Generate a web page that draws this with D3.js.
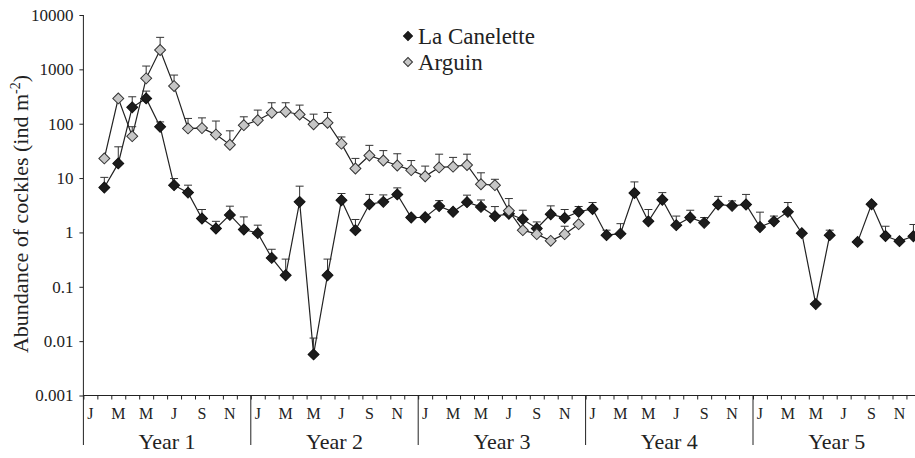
<!DOCTYPE html>
<html>
<head>
<meta charset="utf-8">
<script src="https://cdn.jsdelivr.net/npm/d3@7"></script>
<style>
  body { margin: 0; background: #fff; }
</style>
</head>
<body>
<div id="chart"></div>
<script>
// monthly abundance, index 0 = January of Year 1
const canMean = [null, 6.7, 18.6, 200, 292, 88, 7.4, 5.4, 1.8, 1.18, 2.1, 1.13,
  0.97, 0.34, 0.163, 3.65, 0.0057, 0.163, 3.9, 1.1, 3.3, 3.65, 5.0, 1.88,
  1.9, 3.05, 2.4, 3.6, 2.95, 1.99, 2.2, 1.75, 1.18, 2.16, 1.85, 2.4,
  2.7, 0.89, 0.95, 5.3, 1.6, 4.0, 1.36, 1.88, 1.5, 3.27, 3.08, 3.27,
  1.26, 1.6, 2.39, 0.97, 0.048, 0.89, null, 0.67, 3.3, 0.86, 0.69, 0.85];
const canSE = [0, 3.6, 19, 113, 106, 20, 2.4, 2.0, 0.84, 0.42, 0.94, 0.8,
  0.39, 0.15, 0.16, 3.45, 0.0057, 0.16, 1.3, 0.63, 1.7, 1.25, 1.6, 0,
  0, 0.8, 0, 1.25, 1.0, 1.0, 0, 0.81, 0.38, 0.92, 0.79, 0.6,
  0.85, 0.21, 0.5, 3.2, 1.04, 1.4, 0.64, 0.68, 0.38, 1.33, 0.72, 1.73,
  1.1, 0.4, 1.16, 0, 0, 0.21, 0, 0, 0, 0.44, 0, 0.55];
const argMean = [null, 23, 292, 59, 683, 2265, 492, 82, 83, 63, 41, 94,
  116, 159, 166, 148, 98, 104, 43, 15, 26, 21, 17, 14,
  10.8, 15.7, 16.2, 17.4, 7.7, 7.4, 2.5, 1.1, 0.93, 0.7, 0.93, 1.42];
const argSE = [0, 0, 0, 29, 467, 1615, 293, 43, 45, 49, 33, 40,
  62, 84, 77, 72, 52, 57, 14, 8, 14, 11, 11, 7,
  5.8, 11.8, 7.8, 10.1, 4.8, 2.1, 1.7, 0, 0, 0, 0.37, 0];

const monthLabels = ["J", "M", "M", "J", "S", "N"];
const monthOffsets = [0, 2, 4, 6, 8, 10];
const yearLabels = ["Year 1", "Year 2", "Year 3", "Year 4", "Year 5"];
const yTicks = [0.001, 0.01, 0.1, 1, 10, 100, 1000, 10000];

const FONT = "'Liberation Serif', 'Times New Roman', Times, 'DejaVu Serif', serif";
const W = 915, H = 458;
const svg = d3.select("#chart").append("svg")
  .attr("width", W).attr("height", H)
  .style("font-family", FONT);

const x = d3.scaleLinear().domain([0, 60]).range([83.4, 920.4]);
const y = d3.scaleLog().domain([0.001, 10000]).range([395.5, 15]);

// y axis
const yAxis = svg.append("g")
  .attr("transform", "translate(" + x(0) + ",0)")
  .call(d3.axisLeft(y).tickValues(yTicks).tickSize(4).tickPadding(6)
    .tickFormat(d => d >= 1 ? d3.format("d")(d) : String(d)));
yAxis.attr("font-family", null).attr("font-size", null);
yAxis.select(".domain").remove();
yAxis.selectAll("text").style("font-size", "17px").attr("fill", "#222");
yAxis.selectAll("line").attr("stroke", "#222");
svg.append("line")
  .attr("x1", x(0)).attr("x2", x(0))
  .attr("y1", y(10000)).attr("y2", 445)
  .attr("stroke", "#222");

// x axis with month ticks
const xAxis = svg.append("g")
  .attr("transform", "translate(0," + y(0.001) + ")")
  .call(d3.axisBottom(x).tickValues(d3.range(61)).tickSize(4).tickFormat(""));
xAxis.select(".domain").attr("d", "M" + x(0) + ",0H" + x(60)).attr("stroke", "#222");
xAxis.selectAll("line").attr("stroke", "#222");

// year separators
svg.selectAll(".sep").data([1, 2, 3, 4]).enter().append("line")
  .attr("x1", d => x(d * 12)).attr("x2", d => x(d * 12))
  .attr("y1", y(0.001)).attr("y2", 445)
  .attr("stroke", "#222");

// month labels
const mLab = [];
yearLabels.forEach((yr, k) => monthOffsets.forEach((m, j) => mLab.push({ pos: k * 12 + m + 0.5, t: monthLabels[j] })));
svg.selectAll(".mlab").data(mLab).enter().append("text")
  .attr("x", d => x(d.pos)).attr("y", 419)
  .attr("text-anchor", "middle")
  .attr("fill", "#222")
  .style("font-size", "16px")
  .text(d => d.t);

svg.selectAll(".ylab").data(yearLabels).enter().append("text")
  .attr("x", (d, k) => x(k * 12 + 6)).attr("y", 449)
  .attr("text-anchor", "middle")
  .attr("fill", "#222")
  .style("font-size", "22px")
  .text(d => d);

// y title
const title = svg.append("text")
  .attr("transform", "translate(28,214) rotate(-90)")
  .attr("text-anchor", "middle")
  .attr("fill", "#222")
  .style("font-size", "22px");
title.append("tspan").text("Abundance of cockles (ind m");
title.append("tspan").attr("dy", -8).style("font-size", "14px").text("-2");
title.append("tspan").attr("dy", 8).text(")");

const diamond = d3.symbol().type(d3.symbolSquare).size(60);

function drawSeries(mean, se, fill, stroke) {
  const pts = mean.map((v, i) => ({ i: i, v: v, se: se[i] }));
  const valid = pts.filter(d => d.v != null);
  const line = d3.line()
    .defined(d => d.v != null)
    .x(d => x(d.i + 0.5)).y(d => y(d.v));
  svg.append("path").datum(pts)
    .attr("d", line)
    .attr("fill", "none").attr("stroke", "#222").attr("stroke-width", 1.2);
  const eb = svg.append("g").attr("stroke", "#333").attr("stroke-width", 1);
  valid.filter(d => d.se > 0).forEach(d => {
    const cx = x(d.i + 0.5), top = y(d.v + d.se);
    eb.append("line").attr("x1", cx).attr("x2", cx).attr("y1", y(d.v)).attr("y2", top);
    eb.append("line").attr("x1", cx - 4).attr("x2", cx + 4).attr("y1", top).attr("y2", top);
  });
  svg.append("g").selectAll("path").data(valid).enter().append("path")
    .attr("d", diamond)
    .attr("transform", d => "translate(" + x(d.i + 0.5) + "," + y(d.v) + ") rotate(45)")
    .attr("fill", fill).attr("stroke", stroke).attr("stroke-width", 1);
}

drawSeries(canMean, canSE, "#1c1c1c", "#111");
drawSeries(argMean, argSE, "#c6c6c6", "#333");

// legend
const legend = [
  { name: "La Canelette", fill: "#1c1c1c", stroke: "#111", yy: 36 },
  { name: "Arguin", fill: "#c6c6c6", stroke: "#333", yy: 62 }
];
const lg = svg.append("g");
legend.forEach(l => {
  lg.append("path")
    .attr("d", d3.symbol().type(d3.symbolSquare).size(40))
    .attr("transform", "translate(408," + l.yy + ") rotate(45)")
    .attr("fill", l.fill).attr("stroke", l.stroke);
  lg.append("text")
    .attr("x", 418).attr("y", l.yy + 8)
    .attr("fill", "#222")
    .style("font-size", "23px")
    .text(l.name);
});
</script>
</body>
</html>
